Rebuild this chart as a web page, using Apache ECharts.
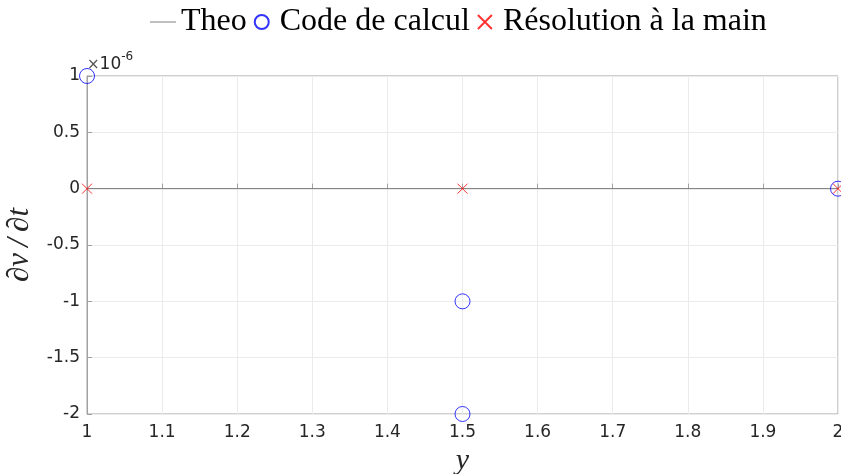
<!DOCTYPE html>
<html>
<head>
<meta charset="utf-8">
<script src="https://cdn.jsdelivr.net/npm/echarts@6/dist/echarts.min.js"></script>
<style>
  html, body { margin: 0; padding: 0; background: #fff; }
  #chart { width: 841px; height: 474px; }
</style>
</head>
<body>
<div id="chart"></div>
<script>
// Values of dv/dt are given in units of 1e-6 (see the ×10^-6 multiplier on the axis)
const theoX = [1, 2];
const theoY = [0, 0];
const codeX = [1, 1.5, 1.5, 2];
const codeY = [1, -1, -2, 0];
const mainX = [1, 1.5, 2];
const mainY = [0, 0, 0];
const xTicks = [1, 1.1, 1.2, 1.3, 1.4, 1.5, 1.6, 1.7, 1.8, 1.9, 2];
const yTicks = [-2, -1.5, -1, -0.5, 0, 0.5, 1];

const pairs = (xs, ys) => xs.map((x, i) => [x, ys[i]]);

const axisGrey = '#a0a0a0';
const textDark = '#262626';
const crossPath = 'path://M0,0L10,10M10,0L0,10';
const linePath = 'path://M0,0H26V1H0Z';

const chart = echarts.init(document.getElementById('chart'));
chart.setOption({
  animation: false,
  backgroundColor: '#ffffff',
  grid: {
    left: 87, right: 3, top: 76, bottom: 60,
    containLabel: false, outerBoundsMode: 'none',
    show: true, borderColor: axisGrey, borderWidth: 1
  },
  legend: {
    top: 1,
    left: 145,
    itemGap: 7,
    itemWidth: 26,
    itemHeight: 14,
    textStyle: { fontFamily: 'Liberation Serif', fontSize: 32, color: '#000' },
    data: [
      { name: 'Theo', icon: linePath, itemStyle: { color: '#808080' } },
      { name: 'Code de calcul' },
      { name: 'Résolution à la main' }
    ]
  },
  xAxis: {
    type: 'value',
    min: xTicks[0],
    max: xTicks[xTicks.length - 1],
    interval: 0.1,
    name: 'y',
    nameLocation: 'middle',
    nameGap: 32,
    nameTextStyle: { fontFamily: 'Liberation Serif', fontStyle: 'italic', fontSize: 30, color: textDark },
    axisLine: { show: true, lineStyle: { color: axisGrey } },
    axisTick: { show: true, inside: true, length: 5, lineStyle: { color: axisGrey } },
    axisLabel: {
      color: textDark, fontFamily: 'DejaVu Sans', fontSize: 17, margin: 10,
      formatter: v => String(parseFloat(v.toFixed(2)))
    },
    splitLine: { show: true, lineStyle: { color: '#ebebeb' } }
  },
  yAxis: {
    type: 'value',
    min: yTicks[0],
    max: yTicks[yTicks.length - 1],
    interval: 0.5,
    name: '∂v\u2009/\u2009∂t',
    nameLocation: 'middle',
    nameGap: 52,
    nameRotate: 90,
    nameTextStyle: { fontFamily: 'Liberation Serif', fontStyle: 'italic', fontSize: 31, color: textDark },
    axisLine: { show: true, lineStyle: { color: axisGrey } },
    axisTick: { show: true, inside: true, length: 5, lineStyle: { color: axisGrey } },
    axisLabel: {
      color: textDark, fontFamily: 'DejaVu Sans', fontSize: 17, margin: 7,
      formatter: v => String(parseFloat(v.toFixed(2)))
    },
    splitLine: { show: true, lineStyle: { color: '#ebebeb' } }
  },
  graphic: [
    {
      type: 'text',
      left: 87,
      top: 51,
      style: {
        text: '{m|×}{b|10}{s|-6}',
        rich: {
          m: { fontFamily: 'DejaVu Sans', fontSize: 15, fill: '#555', verticalAlign: 'bottom' },
          b: { fontFamily: 'DejaVu Sans', fontSize: 17, fill: textDark, verticalAlign: 'bottom' },
          s: { fontFamily: 'DejaVu Sans', fontSize: 12, fill: textDark, verticalAlign: 'top', padding: [0, 0, 10, 0] }
        }
      }
    }
  ],
  series: [
    {
      name: 'Theo',
      type: 'line',
      data: pairs(theoX, theoY),
      symbol: 'none',
      lineStyle: { color: '#808080', width: 1 },
      itemStyle: { color: '#808080' },
      z: 2
    },
    {
      name: 'Code de calcul',
      type: 'scatter',
      data: pairs(codeX, codeY),
      symbol: 'circle',
      symbolSize: 15,
      clip: false,
      itemStyle: { color: 'rgba(0,0,0,0)', borderColor: '#0000ff', borderWidth: 1 },
      z: 3
    },
    {
      name: 'Résolution à la main',
      type: 'scatter',
      data: pairs(mainX, mainY),
      symbol: crossPath,
      symbolSize: 10,
      clip: false,
      itemStyle: { color: 'rgba(0,0,0,0)', borderColor: '#ff0000', borderWidth: 1 },
      z: 4
    }
  ]
});
</script>
</body>
</html>
